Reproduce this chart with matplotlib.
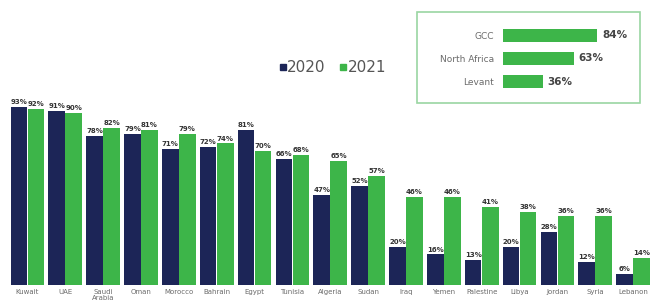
import numpy as np
import matplotlib.pyplot as plt
from matplotlib.patches import Rectangle
from matplotlib.lines import Line2D

countries = ["Kuwait", "UAE", "Saudi\nArabia", "Oman", "Morocco", "Bahrain", "Egypt", "Tunisia",
             "Algeria", "Sudan", "Iraq", "Yemen", "Palestine", "Libya", "Jordan", "Syria", "Lebanon"]
vals_2020 = [93, 91, 78, 79, 71, 72, 81, 66, 47, 52, 20, 16, 13, 20, 28, 12, 6]
vals_2021 = [92, 90, 82, 81, 79, 74, 70, 68, 65, 57, 46, 46, 41, 38, 36, 36, 14]

regions = ["GCC", "North Africa", "Levant"]
region_vals = [84, 63, 36]

navy = "#1c2557"
green = "#3db549"
grey = "#6b6b6b"

fig = plt.figure(figsize=(6.52, 3.03), dpi=100)

ax = fig.add_axes([0.013, 0.059, 0.987, 0.632])
x = np.arange(len(countries))
w = 0.44
b1 = ax.bar(x - 0.225, vals_2020, w, color=navy)
b2 = ax.bar(x + 0.225, vals_2021, w, color=green)
for bars, vals in [(b1, vals_2020), (b2, vals_2021)]:
    for r, v in zip(bars, vals):
        ax.text(r.get_x() + r.get_width() / 2, v + 1, f"{v}%", ha="center", va="bottom",
                fontsize=5, color="#333333", fontweight="bold")
ax.set_xlim(-0.5, len(countries) - 0.5)
ax.set_ylim(0, 100)
ax.set_xticks(x)
ax.set_xticklabels(countries, fontsize=5, color=grey, linespacing=0.9)
ax.tick_params(axis="x", length=0, pad=3)
ax.set_yticks([])
for s in ax.spines.values():
    s.set_visible(False)

handles = [Line2D([], [], marker="s", ls="", color=navy, markersize=4, label="2020"),
           Line2D([], [], marker="s", ls="", color=green, markersize=4, label="2021")]
fig.legend(handles=handles, loc="center", bbox_to_anchor=(0.51, 0.776), ncol=2, frameon=False,
           fontsize=11, labelcolor="#555555", handlelength=0.5,
           handletextpad=0.05, columnspacing=0.9)

# inset box with regional averages
fig.patches.append(Rectangle((0.64, 0.66), 0.342, 0.30, transform=fig.transFigure,
                             fill=False, edgecolor="#9ad6a2", linewidth=1.2))
ax2 = fig.add_axes([0.771, 0.693, 0.173, 0.228])
y = np.arange(len(regions))
ax2.barh(y, region_vals, 0.57, color=green)
for yi, v in zip(y, region_vals):
    ax2.text(v + 4, yi, f"{v}%", va="center", ha="left", fontsize=7.5,
             fontweight="bold", color="#444444")
ax2.set_xlim(0, 100)
ax2.set_ylim(2.5, -0.5)
ax2.set_yticks(y)
ax2.set_yticklabels(regions, fontsize=6.5, color=grey)
ax2.tick_params(axis="y", length=0, pad=6)
ax2.set_xticks([])
for s in ax2.spines.values():
    s.set_visible(False)

fig.savefig("out.png", dpi=100)
